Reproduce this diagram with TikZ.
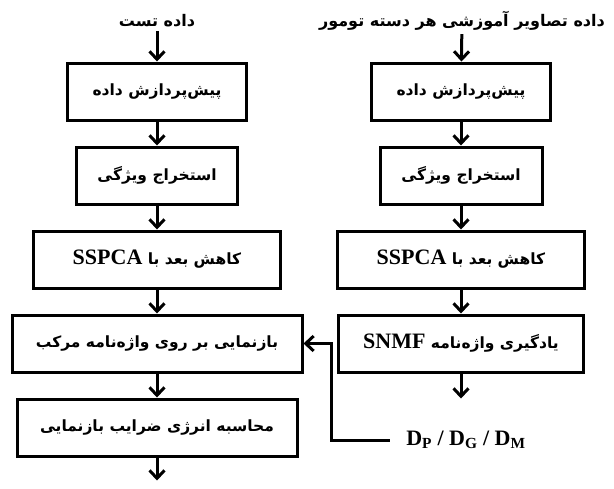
\documentclass[tikz,border=0pt]{standalone}
\usepackage{fontspec}
\setmainfont{Liberation Serif}
\newfontfamily\fafont[Script=Arabic]{DejaVu Sans}
\TeXXeTstate=1
\usetikzlibrary{arrows.meta}

\begin{document}
\begin{tikzpicture}[auto, node distance=84pt, >={Straight Barb[length=8pt,width=15pt]}, x=1pt, y=1pt]
\tikzstyle{block} = [draw, rectangle, line width=3pt, minimum height=57pt, font=\fafont\bfseries\fontsize{15.5}{19}\selectfont]
\tikzstyle{title} = [font=\fafont\bfseries\fontsize{16}{19}\selectfont]
\tikzstyle{output} = [coordinate]
\tikzstyle{flow} = [->, line width=3pt]

\def\lat#1{{\rmfamily\bfseries\fontsize{22}{24}\selectfont\beginL #1\endL}}

\useasboundingbox (0,0) rectangle (614,-488);

    % test data on the left
    \node [title] (test) at (157,-21) {\beginR داده تست\endR};
    \node [block, minimum width=179pt] (prep1) at (157,-91.5) {\beginR پیش‌پردازش داده\endR};
    \node [block, minimum width=161pt, below of = prep1] (feat1) {\beginR استخراج ویژگی\endR};
    \node [block, minimum width=247pt, below of = feat1] (dim1) {\beginR کاهش بعد با \lat{SSPCA}\endR};
    \node [block, minimum width=290pt, below of = dim1] (rep) {\beginR بازنمایی بر روی واژه‌نامه مرکب\endR};
    \node [block, minimum width=280pt, below of = rep] (energy) {\beginR محاسبه انرژی ضرایب بازنمایی\endR};
    \node [output, below of = energy, node distance=53pt] (out1) {};

    % training images on the right
    \node [title] (train) at (462,-21) {\beginR داده تصاویر آموزشی هر دسته تومور\endR};
    \node [block, minimum width=179pt] (prep2) at (461,-91.5) {\beginR پیش‌پردازش داده\endR};
    \node [block, minimum width=162pt, below of = prep2] (feat2) {\beginR استخراج ویژگی\endR};
    \node [block, minimum width=247pt, below of = feat2] (dim2) {\beginR کاهش بعد با \lat{SSPCA}\endR};
    \node [block, minimum width=245pt, below of = dim2] (dict) {\beginR یادگیری واژه‌نامه \lat{SNMF}\endR};
    \node [output, below of = dict, node distance=55pt] (out2) {};
    \node [font=\bfseries\fontsize{22}{24}\selectfont] (Ds) at (466,-440) {D\textsubscript{P} / D\textsubscript{G} / D\textsubscript{M}};

    % arrows down both columns
    \draw [flow] (test) -- (prep1);
    \draw [flow] (prep1) -- (feat1);
    \draw [flow] (feat1) -- (dim1);
    \draw [flow] (dim1) -- (rep);
    \draw [flow] (rep) -- (energy);
    \draw [flow] (energy) -- (out1);
    \draw [flow] (train) -- (prep2);
    \draw [flow] (prep2) -- (feat2);
    \draw [flow] (feat2) -- (dim2);
    \draw [flow] (dim2) -- (dict);
    \draw [flow] (dict) -- (out2);
    \draw [flow] ([xshift=-13pt]Ds.west) -| ([xshift=28pt]rep.east) -- (rep.east);

\end{tikzpicture}
\end{document}
